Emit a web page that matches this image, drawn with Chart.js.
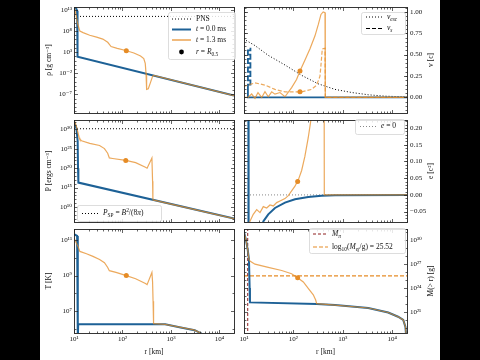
<!DOCTYPE html>
<html><head><meta charset="utf-8">
<script src="https://cdn.jsdelivr.net/npm/chart.js@4.4.1/dist/chart.umd.min.js"></script>
<style>
html,body{margin:0;padding:0;width:480px;height:360px;background:#000;overflow:hidden}
#sheet{position:absolute;left:40px;top:0;width:400px;height:360px;background:#fff}
canvas{position:absolute;display:block}
</style></head><body>
<div id="sheet"></div>
<canvas id="c_rho"></canvas><canvas id="c_v"></canvas>
<canvas id="c_p"></canvas><canvas id="c_e"></canvas>
<canvas id="c_t"></canvas><canvas id="c_m"></canvas>
<script>
// ---------------- data ----------------
const R_MIN = 10, R_MAX = 20000;
const R_TICKS = [10, 100, 1000, 10000];

// density rho, log10 [g cm^-3]
const rho_t0_r    = [10, 11.0, 11.6, 11.8, 11.85, 20000];
const rho_t0_log  = [13.69, 13.4, 12.8, 11.5, 1.94, -7.3];
const rho_t13_r   = [10, 11.0, 12.0, 13.2, 15.4, 21.1, 29.3, 39.3, 49.6, 58.2, 78, 117, 172, 236, 275, 295, 306, 311, 319, 341, 376, 420, 440, 20000];
const rho_t13_log = [13.9, 11.85, 9.54, 8.0, 7.63, 7.0, 6.55, 6.09, 5.33, 4.31, 3.9, 3.39, 2.79, 2.1, 1.48, 0.33, -1.98, -4.28, -5.82, -5.66, -4.28, -2.67, -2.53, -7.3];
const rho_pns_log = 11.46;
const rho_dot_r = [120], rho_dot_log = [3.3];
const rho_ticks_log = [-7, -2, 3, 8, 13];
const rho_range_log = [-11.42, 13.69];

// velocity v [c]
const v_t0_r  = [13.5, 13.5, 12.0, 12.0, 13.5, 13.5, 12.0, 12.0, 13.5, 13.5, 12.0, 12.0, 13.5, 13.5, 12.0, 12.0, 13.5, 13.5, 12.0, 12.0, 12.0, 20000];
const v_t0    = [0.58, 0.55, 0.55, 0.50, 0.50, 0.45, 0.45, 0.40, 0.40, 0.35, 0.35, 0.30, 0.30, 0.25, 0.25, 0.20, 0.20, 0.15, 0.15, 0.10, 0.0, 0.0];
const v_t13_r = [10, 12.05, 14.3, 16.7, 19.2, 22.8, 26.6, 31.0, 36.4, 42.4, 53.5, 67.6, 92.2, 116, 136, 171, 217, 274, 319, 362, 401, 437, 443, 20000];
const v_t13   = [0, 0, 0.04, -0.01, 0.057, 0, 0.068, 0.008, 0.065, 0.038, 0.057, 0.008, 0.114, 0.21, 0.31, 0.435, 0.57, 0.72, 0.85, 0.97, 1.0, 0.99, 0, 0];
const vs_t13_r = [10, 10.5, 16.7, 26.6, 42.4, 67.6, 147, 234, 296, 345, 362, 385, 437, 443, 20000];
const vs_t13   = [0.12, 0.133, 0.17, 0.144, 0.094, 0.065, 0.065, 0.094, 0.144, 0.247, 0.378, 0.568, 0.576, 0, 0];
const vesc_r = [10, 10.47, 16.7, 31, 67.6, 147, 318, 696, 1543, 3290, 7150, 15500, 20000];
const vesc   = [0.69, 0.674, 0.606, 0.492, 0.379, 0.258, 0.159, 0.094, 0.057, 0.031, 0.015, 0.008, 0.006];
const v_dot_r = [136, 136], v_dot = [0.31, 0.065];
const v_ticks = [0, 0.25, 0.5, 0.75, 1.0];
const v_range = [-0.182, 1.057];

// pressure P, log10 [erg cm^-3]
const P_t0_r    = [10, 11.2, 11.9, 12.1, 12.3, 20000];
const P_t0_log  = [31.9, 30.3, 27, 20, 16.3, 7.05];
const P_t13_r   = [10, 10.5, 11.5, 12.8, 13.2, 14.3, 21.1, 33.7, 42.5, 49.5, 53.6, 62.6, 117, 187, 298, 322, 405, 418, 424, 427, 20000];
const P_t13_log = [32.2, 31.85, 30.24, 27.84, 27.43, 27.05, 26.4, 25.85, 25.04, 23.84, 22.64, 22.5, 22.0, 21.44, 20.24, 20.0, 22.64, 16.64, 12.25, 11.84, 7.05];
const P_sp_log = 30.15;
const P_dot_r = [117], P_dot_log = [22.0];
const P_ticks_log = [10, 15, 20, 25, 30];
const P_range_log = [6.16, 32.4];

// specific energy e [c^2]
const e_t0_r  = [12.2, 12.4, 20, 24.6, 31.0, 42.4, 67.6, 107.7, 200, 372, 696, 20000];
const e_t0    = [0.6, -0.6, -0.2, -0.079, -0.058, -0.039, -0.023, -0.013, -0.0064, -0.0028, -0.0008, 0];
const e_t13_r = [12.0, 13.2, 15.4, 18.1, 21.1, 24.6, 28.8, 33.6, 39.2, 45.9, 53.5, 67.6, 78.9, 92.2, 107.7, 126, 147, 171, 200, 228, 250, 417, 423, 20000];
const e_t13   = [-0.3, -0.079, -0.058, -0.044, -0.053, -0.035, -0.039, -0.030, -0.033, -0.023, -0.018, -0.011, -0.002, 0.012, 0.026, 0.045, 0.073, 0.115, 0.171, 0.227, 0.27, 0.6, 0, 0];
const e_dot_r = [122], e_dot = [0.04];
const e_ticks = [-0.05, 0, 0.05, 0.10, 0.15, 0.20];
const e_range = [-0.081, 0.224];

// temperature T, log10 [K]
const T_t0_r    = [10, 11.6, 11.9, 12.05, 12.2, 759, 1500, 3090, 4170, 4900, 6000];
const T_t0_log  = [11.35, 11.25, 11.2, 5.3, 6.24, 6.24, 6.08, 5.91, 5.73, 5.61, 5.4];
const T_t13_r   = [10, 10.5, 11.7, 12.3, 13.2, 18.1, 24.6, 33.7, 42.5, 49.6, 53.6, 73.5, 120, 187, 298, 322, 405, 418, 428, 438, 759, 1500, 3090, 4170, 4900, 6000];
const T_t13_log = [11.15, 11.0, 10.73, 10.6, 10.37, 10.24, 10.09, 9.91, 9.73, 9.46, 9.28, 9.18, 9.0, 8.82, 8.55, 8.49, 9.18, 8.64, 7.55, 6.28, 6.24, 6.08, 5.91, 5.73, 5.61, 5.4];
const T_dot_r = [120], T_dot_log = [9.0];
const T_ticks_log = [7, 9, 11];
const T_range_log = [5.75, 11.64];

// mass outside r, log10 [g]
const M_t0_r    = [10, 11.0, 11.9, 12.6, 13.0, 13.2, 296, 696, 3280, 8320, 13200, 16800, 18600, 19500, 20000];
const M_t0_log  = [31.0, 30.0, 28.8, 27.6, 24, 22.2, 22.0, 21.86, 21.5, 20.93, 20.4, 20.0, 19.12, 17.5, 15];
const M_t13_r   = [10, 11.0, 11.9, 12.6, 13.2, 16.7, 31, 58, 92, 122, 159, 200, 253, 283, 296, 696, 3280, 8320, 13200, 16800, 18600, 19500, 20000];
const M_t13_log = [31.0, 30.0, 28.8, 27.6, 27.4, 27.0, 26.6, 26.2, 25.8, 25.3, 24.76, 23.95, 23.15, 22.5, 22.05, 21.86, 21.5, 20.93, 20.4, 20.0, 19.12, 17.5, 15];
const M_ej_log = 25.52;
const M_pns_r = 11.9;
const M_dot_r = [122], M_dot_log = [25.3];
const M_ticks_log = [21, 24, 27, 30];
const M_range_log = [18.36, 31.41];

// ---------------- style ----------------
const FONT = "'Liberation Serif','DejaVu Serif',serif";
const FS = 7.5, FT = 7;
const BLUE = '#1d6196';
const ORANGE = 'rgba(230,140,38,0.75)';
const ORANGE_S = '#e68c26';
const DARKRED = '#8e1f1f';
const INK = '#111';

const SUP = {'0':'⁰','1':'¹','2':'²','3':'³','4':'⁴','5':'⁵','6':'⁶','7':'⁷','8':'⁸','9':'⁹','-':'⁻'};
const sup = s => String(s).split('').map(c => SUP[c] || c).join('');
const fmtLog = v => '10' + sup(Math.round(Math.log10(v)));
const fmtLin = v => (v < 0 ? '\u2212' : '') + Math.abs(v).toFixed(2);
const p10 = a => a.map(v => Math.pow(10, v));
const xy = (rs, ys) => rs.map((r, i) => ({x: r, y: ys[i]}));

function line(rs, ys, color, width, dash, order) {
  return {data: xy(rs, ys), borderColor: color, borderWidth: width, borderDash: dash || [],
          pointRadius: 0, fill: false, order: order, clip: 0, tension: 0};
}
function dots(rs, ys, color) {
  return {data: xy(rs, ys), showLine: false, pointRadius: 2.5, pointBackgroundColor: color,
          pointBorderWidth: 0, order: 0, clip: 0};
}
function decades(lo, hi, skip) {
  const out = [];
  for (let d = Math.ceil(lo); d <= Math.floor(hi); d++) if (!skip.includes(d)) out.push(Math.pow(10, d));
  return out;
}
function linMinor(lo, hi, step) {
  const out = [];
  for (let v = Math.ceil(lo / step) * step; v <= hi + 1e-9; v += step) out.push(+v.toFixed(4));
  return out;
}

// ---------------- deco plugin (frame, inward ticks, legends, right titles) ----------------
const DECO = {};
function drawRich(ctx, x, y, segs, size) {
  let cx = x;
  for (const [t, s] of segs) {
    const sub = s.includes('b'), sp = s.includes('p');
    const fs = (sub || sp) ? size * 0.72 : size;
    ctx.font = (s.includes('i') ? 'italic ' : '') + fs + 'px ' + FONT;
    const dy = sub ? size * 0.28 : sp ? -size * 0.35 : 0;
    ctx.fillText(t, cx, y + dy);
    cx += ctx.measureText(t).width;
  }
}
const decoPlugin = {
  id: 'deco',
  afterDraw(chart) {
    const d = DECO[chart.canvas.id];
    if (!d) return;
    const ctx = chart.ctx, a = chart.chartArea;
    const xs = chart.scales.x, ys = chart.scales.y;
    const L = Math.floor(a.left) + 0.5, R = Math.floor(a.right) + 0.5;
    const T = Math.floor(a.top) + 0.5, B = Math.floor(a.bottom) + 0.5;
    ctx.save();
    ctx.strokeStyle = '#222'; ctx.lineWidth = 0.9;
    ctx.strokeRect(L, T, R - L, B - T);
    ctx.lineWidth = 0.7;
    const xMinor = [];
    for (const dd of R_TICKS) for (let k = 2; k <= 9; k++) if (k * dd <= R_MAX) xMinor.push(k * dd);
    const tick = (vals, len, horiz) => {
      for (const v of vals) {
        ctx.beginPath();
        if (horiz) {
          const px = Math.round(xs.getPixelForValue(v)) + 0.5;
          if (px < L || px > R) continue;
          ctx.moveTo(px, B); ctx.lineTo(px, B - len);
          ctx.moveTo(px, T); ctx.lineTo(px, T + len);
        } else {
          const py = Math.round(ys.getPixelForValue(v)) + 0.5;
          if (py < T || py > B) continue;
          ctx.moveTo(L, py); ctx.lineTo(L + len, py);
          ctx.moveTo(R, py); ctx.lineTo(R - len, py);
        }
        ctx.stroke();
      }
    };
    tick(R_TICKS, 3.5, true); tick(xMinor, 2, true);
    tick(d.yMajor, 3.5, false); tick(d.yMinor, 2, false);
    // right-hand axis title, reading bottom to top
    if (d.rtitle) {
      ctx.save();
      ctx.translate(a.right + 24, (a.top + a.bottom) / 2);
      ctx.rotate(-Math.PI / 2);
      ctx.fillStyle = INK; ctx.textAlign = 'center'; ctx.textBaseline = 'middle';
      ctx.font = FS + 'px ' + FONT;
      ctx.fillText(d.rtitle, 0, 0);
      ctx.restore();
    }
    // legend
    const lg = d.legend;
    if (lg) {
      ctx.translate(-d.ox, -d.oy);
      ctx.beginPath();
      ctx.roundRect(lg.x + 0.5, lg.y + 0.5, lg.w, lg.h, 2);
      ctx.fillStyle = 'rgba(255,255,255,0.85)'; ctx.fill();
      ctx.strokeStyle = '#d4d4d4'; ctx.lineWidth = 0.8; ctx.stroke();
      for (const it of lg.items) {
        if (it.dot) {
          ctx.beginPath(); ctx.arc((lg.sx0 + lg.sx1) / 2, it.y, 2.4, 0, Math.PI * 2);
          ctx.fillStyle = it.dot; ctx.fill();
        } else {
          ctx.beginPath(); ctx.setLineDash(it.dash || []);
          ctx.strokeStyle = it.color; ctx.lineWidth = it.lw;
          ctx.moveTo(lg.sx0, it.y); ctx.lineTo(lg.sx1, it.y); ctx.stroke();
          ctx.setLineDash([]);
        }
        ctx.fillStyle = INK; ctx.textBaseline = 'middle'; ctx.textAlign = 'left';
        drawRich(ctx, lg.tx, it.y, it.segs, FS);
      }
    }
    ctx.restore();
  }
};

// ---------------- panel factory ----------------
function panel(id, g, y, datasets, deco) {
  const cv = document.getElementById(id);
  cv.width = g.w; cv.height = g.h;
  Object.assign(cv.style, {left: g.left + 'px', top: g.top + 'px', width: g.w + 'px', height: g.h + 'px'});
  const left = g.col === 'L';
  DECO[id] = Object.assign({ox: g.left, oy: g.top, rtitle: left ? null : y.title}, deco);
  return new Chart(cv, {
    type: 'line',
    data: {datasets},
    plugins: [decoPlugin],
    options: {
      responsive: false, animation: false, devicePixelRatio: 1, events: [],
      layout: {padding: g.pad},
      plugins: {legend: {display: false}, tooltip: {enabled: false}},
      scales: {
        x: {
          type: 'logarithmic', min: R_MIN, max: R_MAX, display: !!g.bottom,
          grid: {display: false, drawTicks: false}, border: {display: false},
          afterBuildTicks: s => { s.ticks = R_TICKS.map(v => ({value: v})); },
          afterFit: s => { s.height = g.bottom ? 27 : 0; s.paddingLeft = 0; s.paddingRight = 0; },
          ticks: {autoSkip: false, maxRotation: 0, padding: 2, color: INK, font: {family: FONT, size: FT}, callback: fmtLog},
          title: {display: true, text: 'r [km]', color: INK, font: {family: FONT, size: FS}, padding: {top: 0, bottom: 3.5}}
        },
        y: {
          type: y.log ? 'logarithmic' : 'linear', position: left ? 'left' : 'right',
          min: y.min, max: y.max,
          grid: {display: false, drawTicks: false}, border: {display: false},
          afterBuildTicks: s => { s.ticks = y.ticks.map(v => ({value: v})); },
          afterFit: s => { s.width = left ? 34 : 33; s.paddingTop = 0; s.paddingBottom = 0; },
          ticks: {autoSkip: false, padding: left ? 2 : 3, color: INK, font: {family: FONT, size: FT}, callback: y.log ? fmtLog : fmtLin},
          title: {display: left, text: y.title, color: INK, font: {family: FONT, size: FS}, padding: {top: 4.5, bottom: 0}}
        }
      }
    }
  });
}

const colL = {col: 'L', left: 40, w: 198}, colR = {col: 'R', left: 234, w: 206};
const row1 = {top: 0, h: 117, pt: 7, pb: 1}, row2 = {top: 116, h: 110, pt: 0, pb: 1}, row3 = {top: 225, h: 135, pt: 0, pb: 0, bottom: true};
function geo(c, r) {
  return {col: c.col, left: c.left, w: c.w, top: r.top, h: r.h, bottom: r.bottom,
          pad: {left: c.col === 'L' ? 0 : 10, right: c.col === 'L' ? 1 : 0, top: r.pt, bottom: r.pb}};
}

// ---- rho ----
panel('c_rho', geo(colL, row1),
  {log: true, min: Math.pow(10, rho_range_log[0]), max: Math.pow(10, rho_range_log[1]), ticks: p10(rho_ticks_log), title: 'ρ [g cm⁻³]'},
  [
    line([R_MIN, R_MAX], p10([rho_pns_log, rho_pns_log]), '#000', 1, [1, 2], 3),
    line(rho_t0_r, p10(rho_t0_log), BLUE, 2, [], 2),
    line(rho_t13_r, p10(rho_t13_log), ORANGE, 1.2, [], 1),
    dots(rho_dot_r, p10(rho_dot_log), ORANGE_S)
  ],
  {yMajor: p10(rho_ticks_log), yMinor: decades(rho_range_log[0], rho_range_log[1], rho_ticks_log),
   legend: {x: 168, y: 12, w: 67, h: 47, sx0: 172, sx1: 191, tx: 196, items: [
     {y: 19, color: '#000', lw: 1, dash: [1, 2], segs: [['PNS', '']]},
     {y: 29.5, color: BLUE, lw: 2, segs: [['t', 'i'], [' = 0.0 ms', '']]},
     {y: 40, color: ORANGE_S, lw: 1.2, segs: [['t', 'i'], [' = 1.3 ms', '']]},
     {y: 52, dot: '#000', segs: [['r', 'i'], [' = ', ''], ['R', 'i'], ['0.5', 'b']]}
   ]}});

// ---- v ----
panel('c_v', geo(colR, row1),
  {log: false, min: v_range[0], max: v_range[1], ticks: v_ticks, title: 'v [c]'},
  [
    line(vesc_r, vesc, '#000', 1, [1, 2], 3),
    line(v_t0_r, v_t0, BLUE, 1.8, [], 2),
    line(vs_t13_r, vs_t13, ORANGE, 1.2, [4, 2], 1),
    line(v_t13_r, v_t13, ORANGE, 1.2, [], 1),
    dots(v_dot_r, v_dot, ORANGE_S)
  ],
  {yMajor: v_ticks, yMinor: linMinor(v_range[0], v_range[1], 0.05),
   legend: {x: 361, y: 12, w: 44, h: 22, sx0: 366, sx1: 382, tx: 387, items: [
     {y: 17, color: '#000', lw: 1, dash: [1, 2], segs: [['v', 'i'], ['esc', 'ib']]},
     {y: 28.5, color: '#000', lw: 1.2, dash: [4, 2], segs: [['v', 'i'], ['s', 'ib']]}
   ]}});

// ---- P ----
panel('c_p', geo(colL, row2),
  {log: true, min: Math.pow(10, P_range_log[0]), max: Math.pow(10, P_range_log[1]), ticks: p10(P_ticks_log), title: 'P [ergs cm⁻³]'},
  [
    line([R_MIN, R_MAX], p10([P_sp_log, P_sp_log]), '#000', 1, [1, 2], 3),
    line(P_t0_r, p10(P_t0_log), BLUE, 2, [], 2),
    line(P_t13_r, p10(P_t13_log), ORANGE, 1.2, [], 1),
    dots(P_dot_r, p10(P_dot_log), ORANGE_S)
  ],
  {yMajor: p10(P_ticks_log), yMinor: decades(P_range_log[0], P_range_log[1], P_ticks_log),
   legend: {x: 77, y: 205, w: 84, h: 16, sx0: 82, sx1: 98, tx: 103, items: [
     {y: 213.5, color: '#000', lw: 1, dash: [1, 2], segs: [['P', 'i'], ['SP', 'b'], [' = ', ''], ['B', 'i'], ['2', 'p'], ['/(8', ''], ['π', 'i'], [')', '']]}
   ]}});

// ---- e ----
panel('c_e', geo(colR, row2),
  {log: false, min: e_range[0], max: e_range[1], ticks: e_ticks, title: 'e [c²]'},
  [
    line([R_MIN, R_MAX], [0, 0], '#888', 1, [1, 2], 3),
    line(e_t0_r, e_t0, BLUE, 2, [], 2),
    line(e_t13_r, e_t13, ORANGE, 1.2, [], 1),
    dots(e_dot_r, e_dot, ORANGE_S)
  ],
  {yMajor: e_ticks, yMinor: linMinor(e_range[0], e_range[1], 0.01),
   legend: {x: 355, y: 119, w: 49, h: 15, sx0: 360, sx1: 376, tx: 381, items: [
     {y: 126.5, color: '#888', lw: 1, dash: [1, 2], segs: [['e', 'i'], [' = 0', '']]}
   ]}});

// ---- T ----
panel('c_t', geo(colL, row3),
  {log: true, min: Math.pow(10, T_range_log[0]), max: Math.pow(10, T_range_log[1]), ticks: p10(T_ticks_log), title: 'T [K]'},
  [
    line(T_t0_r, p10(T_t0_log), BLUE, 2, [], 2),
    line(T_t13_r, p10(T_t13_log), ORANGE, 1.2, [], 1),
    dots(T_dot_r, p10(T_dot_log), ORANGE_S)
  ],
  {yMajor: p10(T_ticks_log), yMinor: decades(T_range_log[0], T_range_log[1], T_ticks_log)});

// ---- M ----
panel('c_m', geo(colR, row3),
  {log: true, min: Math.pow(10, M_range_log[0]), max: Math.pow(10, M_range_log[1]), ticks: p10(M_ticks_log), title: 'M(> r) [g]'},
  [
    line([M_pns_r, M_pns_r], p10([M_range_log[0] - 1, M_range_log[1] + 1]), DARKRED, 1, [3, 2], 3),
    line([R_MIN, R_MAX], p10([M_ej_log, M_ej_log]), ORANGE_S, 1.2, [4, 2], 3),
    line(M_t0_r, p10(M_t0_log), BLUE, 2, [], 2),
    line(M_t13_r, p10(M_t13_log), ORANGE, 1.2, [], 1),
    dots(M_dot_r, p10(M_dot_log), ORANGE_S)
  ],
  {yMajor: p10(M_ticks_log), yMinor: decades(M_range_log[0], M_range_log[1], M_ticks_log),
   legend: {x: 309, y: 228, w: 96, h: 25, sx0: 313, sx1: 328, tx: 332, items: [
     {y: 234, color: DARKRED, lw: 1, dash: [3, 2], segs: [['M', 'i'], ['π', 'ib']]},
     {y: 247, color: ORANGE_S, lw: 1.2, dash: [4, 2], segs: [['log', ''], ['10', 'b'], ['(', ''], ['M', 'i'], ['ej', 'ib'], ['/g) = 25.52', '']]}
   ]}});
</script>
</body></html>
